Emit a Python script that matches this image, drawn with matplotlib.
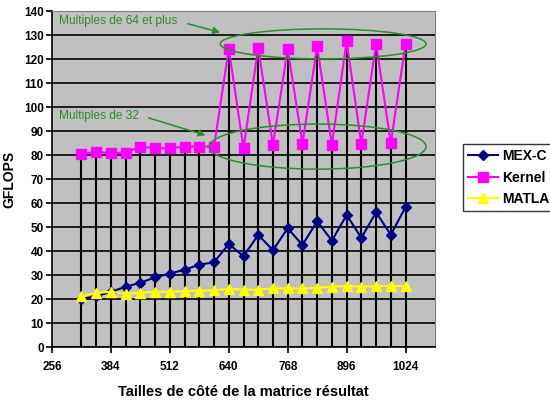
import matplotlib
matplotlib.use("Agg")
import matplotlib.pyplot as plt
from matplotlib.patches import Ellipse

plt.rcParams['font.family'] = ['Liberation Sans', 'DejaVu Sans']

# tailles de matrice (multiples de 32)
tailles = [320, 352, 384, 416, 448, 480, 512, 544, 576, 608, 640, 672,
           704, 736, 768, 800, 832, 864, 896, 928, 960, 992, 1024]
mex_c = [20.0, 21.2, 23.0, 25.1, 26.8, 29.0, 30.6, 32.2, 34.3, 35.3, 42.9, 37.8,
         46.7, 40.3, 49.5, 42.5, 52.4, 44.3, 55.0, 45.5, 56.1, 46.8, 58.3]
kernel = [80.3, 81.4, 80.7, 81.0, 83.5, 82.8, 82.8, 83.5, 83.5, 83.5, 124.3, 82.8,
          124.7, 84.2, 124.3, 84.7, 125.3, 84.3, 127.4, 84.7, 126.4, 84.9, 126.3]
matlab = [21.2, 22.5, 23.0, 22.2, 22.6, 23.0, 23.0, 23.3, 23.5, 23.6, 24.2, 23.9,
          23.9, 24.4, 24.4, 24.4, 24.7, 25.1, 25.4, 25.1, 25.3, 25.5, 25.3]
xticks = [256, 384, 512, 640, 768, 896, 1024]

vert = '#2E8B2E'

fig = plt.figure(figsize=(5.5, 4.15), dpi=100)
ax = fig.add_axes([52/550, 68/415, 383/550, 336/415])
ax.set_facecolor('#C0C0C0')

# lignes de projection
ax.vlines(tailles, 0, kernel, colors='black', lw=1.5, zorder=2)

ax.plot(tailles, mex_c, color='#000080', marker='D', ms=5.5, lw=1.5, label='MEX-C', zorder=4)
ax.plot(tailles, kernel, color='#FF00FF', marker='s', ms=6.5, lw=1.5, label='Kernel', zorder=4)
ax.plot(tailles, matlab, color='#FFFF00', marker='^', ms=7, lw=1.5, label='MATLAB', zorder=4)

ax.set_xlim(256, 1088)
ax.set_ylim(0, 140)
ax.set_xticks(xticks)
ax.set_yticks(range(0, 141, 10))
ax.yaxis.grid(True, color='black', lw=1.2)
ax.set_axisbelow(True)
ax.tick_params(axis='both', direction='out', length=4, width=1.2, labelsize=8.5)
ax.tick_params(axis='x', pad=6)
ax.tick_params(axis='y', pad=2)
for lab in ax.get_xticklabels() + ax.get_yticklabels():
    lab.set_fontweight('bold')
for s in ['top', 'right']:
    ax.spines[s].set_color('#808080')
for s in ['left', 'bottom']:
    ax.spines[s].set_linewidth(1.2)

ax.set_xlabel('Tailles de côté de la matrice résultat', fontsize=10.5, fontweight='bold', labelpad=9)
fig.text(9/550, 1 - 179/415, 'GFLOPS', rotation=90, fontsize=10, fontweight='bold',
         ha='center', va='center')

# annotations
ax.add_patch(Ellipse((845, 126.3), 447, 12.5, fill=False, ec=vert, lw=1.1, zorder=5))
ax.add_patch(Ellipse((833, 83.5), 471, 18.8, fill=False, ec=vert, lw=1.1, zorder=5))
ax.text(271, 135.8, 'Multiples de 64 et plus', color=vert, fontsize=8.6, va='center')
ax.text(271, 96.2, 'Multiples de 32', color=vert, fontsize=8.6, va='center')
ax.annotate('', xy=(627, 130.8), xytext=(545, 135),
            arrowprops=dict(arrowstyle='-|>', color=vert, lw=1.1, mutation_scale=10))
ax.annotate('', xy=(595, 87.9), xytext=(460, 95.8),
            arrowprops=dict(arrowstyle='-|>', color=vert, lw=1.1, mutation_scale=10))

leg = fig.legend(loc='upper left', bbox_to_anchor=(463/550, (415-144)/415),
                 frameon=True, fancybox=False, edgecolor='black',
                 prop={'weight': 'bold', 'size': 10}, handlelength=2.2,
                 borderaxespad=0, borderpad=0.35, labelspacing=0.55, handletextpad=0.3)
leg.get_frame().set_linewidth(1.0)

fig.savefig('out.png', dpi=100)
